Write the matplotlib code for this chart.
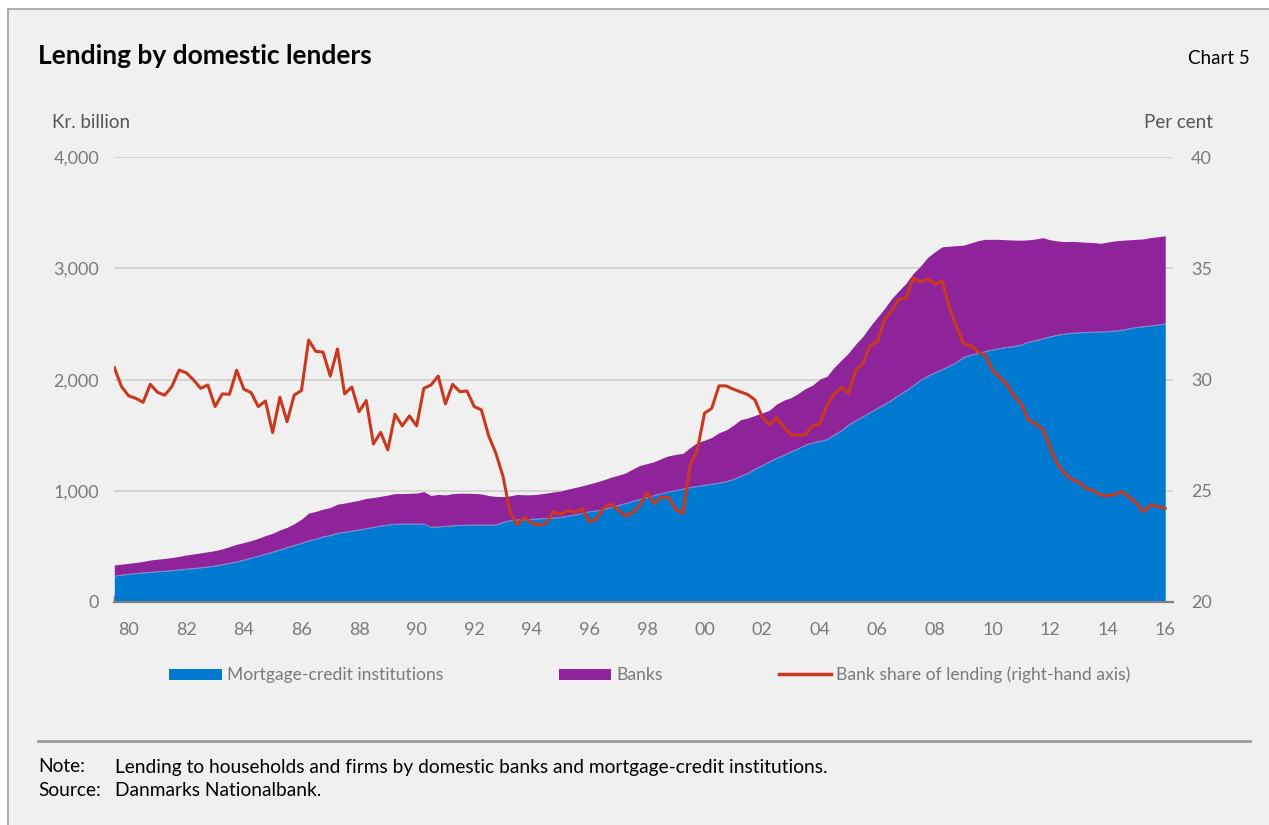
"""
Lending by domestic lenders (Chart 5)
Quarterly lending by mortgage-credit institutions and banks, 1980Q1-2016Q3,
with the bank share of lending on the right-hand axis.
"""

import numpy as np
import matplotlib
matplotlib.use("Agg")
import matplotlib.pyplot as plt
from matplotlib.patches import Patch
from matplotlib.lines import Line2D
from matplotlib.ticker import FuncFormatter, FixedLocator

plt.rcParams['font.family'] = ['Lato', 'DejaVu Sans']

# ==================== data (kr. billion / per cent), 1980Q1 .. 2016Q3 ====================
start_year = 1980

mortgage = [
    234, 242, 250, 256, 262, 268, 273, 277, 283, 288,
    294, 300, 308, 316, 324, 336, 348, 360, 377, 395,
    412, 430, 448, 468, 490, 508, 528, 550, 565, 586,
    598, 618, 628, 638, 648, 660, 672, 683, 693, 700,
    702, 702, 702, 702, 672, 676, 680, 686, 690, 692,
    693, 693, 693, 693, 715, 732, 738, 740, 744, 748,
    753, 756, 760, 772, 782, 798, 812, 820, 832, 850,
    868, 885, 905, 922, 938, 958, 975, 990, 1002, 1015,
    1030, 1040, 1050, 1060, 1070, 1082, 1102, 1130, 1155, 1195,
    1225, 1260, 1292, 1318, 1350, 1378, 1410, 1430, 1445, 1460,
    1500, 1540, 1590, 1630, 1665, 1703, 1740, 1775, 1815, 1860,
    1900, 1945, 1992, 2030, 2060, 2090, 2120, 2153, 2200, 2220,
    2237, 2253, 2267, 2280, 2291, 2298, 2312, 2338, 2350, 2368,
    2385, 2400, 2410, 2418, 2422, 2425, 2427, 2430, 2432, 2438,
    2445, 2458, 2470, 2476, 2483, 2492, 2501,
]

# mortgage-credit institutions + banks
total_lending = [
    333, 340, 348, 356, 365, 378, 385, 392, 400, 410,
    423, 432, 442, 452, 462, 478, 498, 519, 535, 552,
    573, 598, 618, 648, 672, 705, 745, 800, 815, 835,
    850, 880, 890, 903, 915, 932, 940, 950, 962, 975,
    975, 978, 980, 993, 958, 968, 963, 975, 978, 978,
    976, 972, 958, 950, 948, 955, 968, 964, 965, 970,
    980, 990, 998, 1015, 1030, 1045, 1062, 1080, 1100, 1122,
    1140, 1160, 1195, 1228, 1245, 1262, 1290, 1315, 1328, 1337,
    1390, 1435, 1455, 1480, 1522, 1548, 1590, 1640, 1655, 1678,
    1700, 1725, 1780, 1815, 1838, 1875, 1920, 1950, 2005, 2030,
    2110, 2175, 2240, 2320, 2390, 2480, 2560, 2640, 2730, 2800,
    2868, 2957, 3022, 3100, 3150, 3195, 3200, 3205, 3210, 3230,
    3250, 3262, 3262, 3262, 3258, 3256, 3254, 3258, 3265, 3277,
    3258, 3248, 3242, 3244, 3240, 3236, 3234, 3226, 3238, 3248,
    3254, 3258, 3262, 3266, 3278, 3285, 3295,
]

bank_share = [
    30.54, 29.69, 29.27, 29.16, 28.98, 29.79, 29.43, 29.30, 29.69, 30.43,
    30.31, 29.99, 29.61, 29.76, 28.79, 29.36, 29.34, 30.42, 29.57, 29.42,
    28.79, 29.04, 27.62, 29.21, 28.11, 29.31, 29.51, 31.78, 31.27, 31.24,
    30.16, 31.38, 29.36, 29.67, 28.56, 29.06, 27.11, 27.63, 26.84, 28.44,
    27.92, 28.37, 27.92, 29.61, 29.76, 30.16, 28.91, 29.79, 29.46, 29.49,
    28.79, 28.64, 27.48, 26.70, 25.65, 24.02, 23.48, 23.81, 23.54, 23.46,
    23.54, 24.06, 23.94, 24.11, 24.02, 24.20, 23.61, 23.72, 24.24, 24.41,
    24.14, 23.87, 24.02, 24.35, 24.92, 24.44, 24.71, 24.71, 24.17, 23.99,
    26.16, 26.84, 28.49, 28.71, 29.72, 29.72, 29.57, 29.45, 29.33, 29.09,
    28.34, 27.96, 28.29, 27.89, 27.51, 27.51, 27.51, 27.92, 28.01, 28.82,
    29.36, 29.66, 29.39, 30.43, 30.72, 31.54, 31.71, 32.68, 33.10, 33.61,
    33.66, 34.56, 34.41, 34.53, 34.30, 34.44, 33.28, 32.38, 31.60, 31.53,
    31.26, 31.08, 30.43, 30.10, 29.79, 29.27, 28.91, 28.19, 28.01, 27.77,
    26.96, 26.21, 25.79, 25.52, 25.38, 25.11, 25.01, 24.81, 24.78, 24.84,
    24.96, 24.71, 24.44, 24.06, 24.36, 24.29, 24.21,
]

year_labels = ["80", "82", "84", "86", "88", "90", "92", "94", "96", "98",
               "00", "02", "04", "06", "08", "10", "12", "14", "16"]

series_names = ["Mortgage-credit institutions", "Banks",
                "Bank share of lending (right-hand axis)"]

# ==================== style ====================
BG = "#f0f0f0"
BLUE = "#0079d1"
PURPLE = "#8f2399"
RED = "#c8391f"
GRID = "#d2d2d2"
TXT_GREY = "#7a7a7a"
W, H = 1269, 825

x = start_year + np.arange(len(mortgage)) / 4.0

fig = plt.figure(figsize=(W / 100, H / 100), dpi=100)
fig.patch.set_facecolor("white")

# grey panel with a frame on top / left
panel = plt.Rectangle((8 / W, 0), 1 - 8 / W, 1 - 9 / H, transform=fig.transFigure,
                      facecolor=BG, edgecolor="none", zorder=-10)
fig.patches.append(panel)
fig.add_artist(Line2D([8 / W, 8 / W], [0, 1 - 9 / H], transform=fig.transFigure,
                      color="#a0a0a0", lw=1.2))
fig.add_artist(Line2D([8 / W, 1], [1 - 9 / H, 1 - 9 / H], transform=fig.transFigure,
                      color="#a0a0a0", lw=1.2))

ax = fig.add_axes([114.3 / W, 1 - 602 / H, (1173 - 114.3) / W, (602 - 157.3) / H])
ax.set_facecolor("none")

ax.fill_between(x, 0, mortgage, color=BLUE, lw=0, zorder=2)
ax.fill_between(x, mortgage, total_lending, color=PURPLE, lw=0, zorder=2)
ax.plot(x, mortgage, color="#6aa6e0", lw=0.6, zorder=3)

ax.set_xlim(start_year, 2016.77)
ax.set_ylim(0, 4000)
ax.set_yticks([0, 1000, 2000, 3000, 4000])
ax.yaxis.set_major_formatter(FuncFormatter(lambda v, p: f"{int(v):,}"))
ax.grid(axis="y", color=GRID, lw=1.3, zorder=0)
ax.set_axisbelow(True)

# year ticks at boundaries, labels mid-year every second year
ax.xaxis.set_major_locator(FixedLocator(np.arange(1980, 2017)))
ax.xaxis.set_minor_locator(FixedLocator(np.arange(1980, 2017, 2) + 0.5))
ax.set_xticklabels([], minor=False)
ax.set_xticklabels(year_labels, minor=True)
ax.tick_params(axis="x", which="major", direction="in", length=5, color="#808080", width=1)
ax.tick_params(axis="x", which="minor", length=0, pad=14.5, labelsize=13, labelcolor=TXT_GREY)
ax.tick_params(axis="y", length=0, pad=11, labelsize=13, labelcolor=TXT_GREY)

for s in ["top", "right", "left"]:
    ax.spines[s].set_visible(False)
ax.spines["bottom"].set_color("#808080")
ax.spines["bottom"].set_linewidth(1.6)
ax.spines["bottom"].set_zorder(5)

ax2 = ax.twinx()
ax2.plot(x, bank_share, color=RED, lw=2.2, zorder=4)
ax2.set_ylim(20, 40)
ax2.set_yticks([20, 25, 30, 35, 40])
ax2.tick_params(axis="y", length=0, pad=13, labelsize=13, labelcolor=TXT_GREY)
for s in ax2.spines.values():
    s.set_visible(False)

# ==================== texts ====================
fig.text(38 / W, 1 - 56.5 / H, "Lending by domestic lenders", fontsize=19,
         fontweight="bold", va="center", ha="left", color="black")
fig.text(1250 / W, 1 - 59 / H, "Chart 5", fontsize=13.5, va="center", ha="right")
fig.text(52 / W, 1 - 122 / H, "Kr. billion", fontsize=13.5, va="center", ha="left",
         color="#555555")
fig.text(1213 / W, 1 - 122 / H, "Per cent", fontsize=13.5, va="center", ha="right",
         color="#555555")

handles = [Patch(facecolor=BLUE, edgecolor="none"),
           Patch(facecolor=PURPLE, edgecolor="none"),
           Line2D([0], [0], color=RED, lw=2.5)]
leg = fig.legend(handles, series_names, loc="center", bbox_to_anchor=(650 / W, 1 - 675 / H),
                 ncol=3, frameon=False, fontsize=12.6, handlelength=3.0, handleheight=0.6,
                 handletextpad=0.3, columnspacing=6.6)
for t in leg.get_texts():
    t.set_color(TXT_GREY)

fig.add_artist(Line2D([38 / W, 1250 / W], [1 - 741 / H, 1 - 741 / H],
                      transform=fig.transFigure, color="#9a9a9a", lw=2))
fig.text(38 / W, 1 - 767 / H, "Note:", fontsize=13.8, va="center", ha="left")
fig.text(115 / W, 1 - 767 / H,
         "Lending to households and firms by domestic banks and mortgage-credit institutions.",
         fontsize=13.8, va="center", ha="left")
fig.text(38 / W, 1 - 791 / H, "Source:", fontsize=13.8, va="center", ha="left")
fig.text(115 / W, 1 - 791 / H, "Danmarks Nationalbank.", fontsize=13.8, va="center", ha="left")

fig.savefig("out.png", dpi=100, facecolor=fig.get_facecolor())
